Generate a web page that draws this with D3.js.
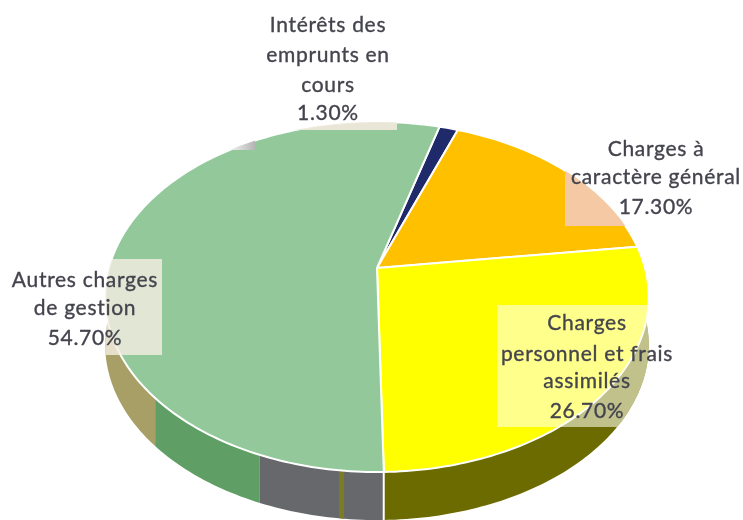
<!DOCTYPE html>
<html>
<head>
<meta charset="utf-8">
<script src="https://d3js.org/d3.v7.min.js"></script>
<style>
  html, body { margin: 0; padding: 0; background: #fff; }
  svg { display: block; }
  text { font-family: Lato, "Open Sans", sans-serif; font-size: 21px; fill: #44444e; stroke: #44444e; stroke-width: 0.35px; text-anchor: middle; letter-spacing: 0.7px; }
</style>
</head>
<body>
<script>
// values, clockwise from the top
var categories = ["Intérêts des emprunts en cours", "Charges à caractère général", "Charges personnel et frais assimilés", "Autres charges de gestion"];
var shares = [1.3, 17.3, 26.7, 54.7];
var shareLabels = ["1.30%", "17.30%", "26.70%", "54.70%"];
var sliceColors = ["#1f2a6b", "#ffc000", "#ffff00", "#93c99a"];

var w = 743;
var h = 520;

// tilted disc: the apex of the pie is not the middle of the ellipse
var cx = 377;
var apexY = 268;
var halfWidth = 268;
var slope = 125.8;
var persp = -0.1657;
var depth = 48;
var startDeg = 15.7;

function project(deg, drop) {
  var a = deg * Math.PI / 180;
  var u = Math.sin(a), v = -Math.cos(a);
  var k = 1 + persp * v;
  return [cx + halfWidth * u / k, (slope * v + apexY) / k + (drop || 0)];
}

function rimDegs(from, to) {
  var n = Math.max(2, Math.ceil(Math.abs(to - from)));
  return d3.range(n + 1).map(function(i) { return from + (to - from) * i / n; });
}

var line = d3.line();

var svg = d3.select("body")
  .append("svg")
  .attr("width", w)
  .attr("height", h);

var defs = svg.append("defs");

// shape of the whole pie, the label patches only show on it
var topRim = rimDegs(0, 360).map(function(t) { return project(t); });
var lowRim = rimDegs(0, 360).map(function(t) { return project(t, depth); });

var pieClip = defs.append("clipPath").attr("id", "pieClip");
pieClip.append("path").attr("d", line(topRim) + "Z");
pieClip.append("path").attr("d", line(lowRim) + "Z");

var blur = defs.append("filter").attr("id", "soft");
blur.append("feGaussianBlur").attr("stdDeviation", 0.45);

var pie = d3.pie()
  .sort(null)
  .startAngle(startDeg * Math.PI / 180)
  .endAngle((startDeg + 360) * Math.PI / 180);

var slices = pie(shares);

// side wall, its bands do not line up with the slices in the source picture
var wallFrom = [90, 178.8, 201.7, 227.3, 185.9];
var wallTo = [178.8, 201.7, 227.3, 275, 186.8];
var wallColors = ["#6b6b00", "#67686c", "#5f9f65", "#a79f66", "#7c7c24"];

svg.selectAll("path.wall")
  .data(wallColors)
  .enter()
  .append("path")
  .attr("class", "wall")
  .attr("fill", function(d) { return d; })
  .attr("d", function(d, i) {
    var top = rimDegs(wallFrom[i], wallTo[i]).map(function(t) { return project(t); });
    var bottom = rimDegs(wallTo[i], wallFrom[i]).map(function(t) { return project(t, depth); });
    return line(top.concat(bottom)) + "Z";
  });

// white seam under the yellow / green border
svg.append("path")
  .attr("d", line([project(178.8), project(178.8, depth)]))
  .attr("stroke", "#fff")
  .attr("stroke-width", 2);

svg.selectAll("path.slice")
  .data(slices)
  .enter()
  .append("path")
  .attr("class", "slice")
  .attr("fill", function(d, i) { return sliceColors[i]; })
  .attr("stroke", "#fff")
  .attr("stroke-width", 2)
  .attr("stroke-linejoin", "round")
  .attr("d", function(d) {
    var from = d.startAngle * 180 / Math.PI;
    var to = d.endAngle * 180 / Math.PI;
    var pts = [[cx, apexY]].concat(rimDegs(from, to).map(function(t) { return project(t); }));
    return line(pts) + "Z";
  });

// pale patches left behind the labels
var patches = [
  {x: 0, y: 259, w: 162, h: 96, fill: "#f4eee2", op: 0.82},
  {x: 497, y: 305, w: 160, h: 122, fill: "#fffff0", op: 0.58},
  {x: 565, y: 168, w: 90, h: 58, fill: "#f5c9a4", op: 1},
  {x: 293, y: 110, w: 104, h: 20, fill: "#eee8da", op: 0.95}
];

// the grey smudge at the top left, everything left of it is cut to white
var smudge = defs.append("linearGradient").attr("id", "smudge");
smudge.append("stop").attr("offset", "0%").attr("stop-color", "#fff");
smudge.append("stop").attr("offset", "45%").attr("stop-color", "#fff");
smudge.append("stop").attr("offset", "100%").attr("stop-color", "#b4b4b4");

var overlay = svg.append("g").attr("clip-path", "url(#pieClip)");

overlay.selectAll("rect.patch")
  .data(patches)
  .enter()
  .append("rect")
  .attr("class", "patch")
  .attr("x", function(d) { return d.x; })
  .attr("y", function(d) { return d.y; })
  .attr("width", function(d) { return d.w; })
  .attr("height", function(d) { return d.h; })
  .attr("fill", function(d) { return d.fill; })
  .attr("fill-opacity", function(d) { return d.op; });

overlay.append("rect")
  .attr("x", 200)
  .attr("y", 100)
  .attr("width", 55)
  .attr("height", 50)
  .attr("fill", "url(#smudge)");

overlay.append("rect")
  .attr("x", 255)
  .attr("y", 100)
  .attr("width", 38)
  .attr("height", 18)
  .attr("fill", "#fff");

// label lines, wrapped as in the picture
var labelLines = [
  ["Intérêts des", "emprunts en", "cours", shareLabels[0]],
  ["Charges à", "caractère général", shareLabels[1]],
  ["Charges", "personnel et frais", "assimilés", shareLabels[2]],
  ["Autres charges", "de gestion", shareLabels[3]]
];
var labelX = [328, 656, 587, 85];
var labelY = [[32, 62, 92, 120], [156, 184, 214], [330, 361, 388, 418], [287, 315, 345]];

var labels = svg.append("g").attr("filter", "url(#soft)");

labelLines.forEach(function(lines, i) {
  labels.selectAll("text.l" + i)
    .data(lines)
    .enter()
    .append("text")
    .attr("class", "l" + i)
    .attr("x", labelX[i])
    .attr("y", function(d, j) { return labelY[i][j]; })
    .text(function(d) { return d; });
});
</script>
</body>
</html>
